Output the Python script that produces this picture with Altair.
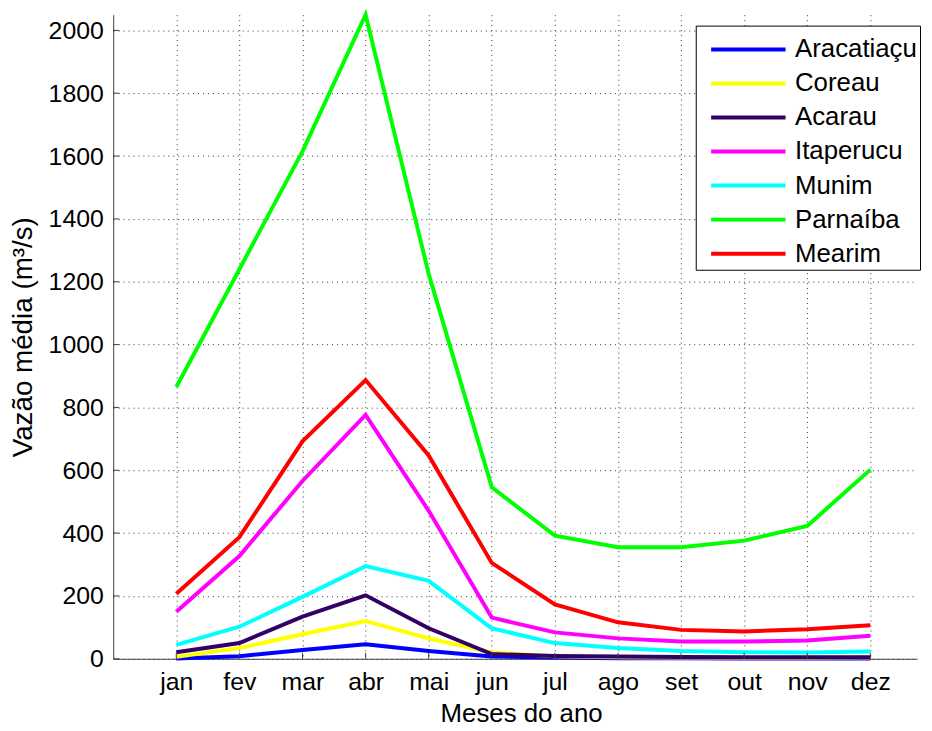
import altair as alt
import pandas as pd

meses = ["jan", "fev", "mar", "abr", "mai", "jun", "jul", "ago", "set", "out", "nov", "dez"]
series = ["Aracatiaçu", "Coreau", "Acarau", "Itaperucu", "Munim", "Parnaíba", "Mearim"]
cores = ["#0000FF", "#FFFF00", "#330066", "#FF00FF", "#00FFFF", "#00FF00", "#FF0000"]

aracatiacu = [1, 8, 28, 46, 25, 7, 4, 2, 2, 1, 1, 1]
coreau = [6, 34, 78, 120, 65, 20, 8, 5, 4, 3, 3, 4]
acarau = [21, 50, 134, 202, 97, 15, 9, 7, 6, 5, 5, 5]
itaperucu = [150, 327, 566, 776, 471, 131, 84, 65, 55, 55, 58, 73]
munim = [44, 102, 197, 295, 248, 97, 50, 34, 25, 21, 20, 23]
parnaiba = [865, 1240, 1615, 2050, 1225, 546, 392, 355, 355, 376, 423, 602]
mearim = [207, 387, 692, 887, 647, 305, 173, 116, 92, 87, 94, 107]

y_ticks = [0, 200, 400, 600, 800, 1000, 1200, 1400, 1600, 1800, 2000]

valores = [aracatiacu, coreau, acarau, itaperucu, munim, parnaiba, mearim]
rows = []
for s, vals in zip(series, valores):
    for i, v in enumerate(vals):
        rows.append({"serie": s, "mes": i + 1, "vazao": v})
df = pd.DataFrame(rows)

FONT = "Liberation Sans"
label_expr = "[" + ",".join("'%s'" % m for m in meses) + "][datum.value - 1]"

x_scale = alt.Scale(domain=[0, 12.74], nice=False, zero=False)
y_scale = alt.Scale(domain=[0, 2050], nice=False)
color_scale = alt.Scale(domain=series, range=cores)

x_axis = alt.Axis(values=list(range(1, 13)), labelExpr=label_expr, title="Meses do ano",
                  grid=True, titleX=411, titleY=63, titleBaseline="alphabetic")
y_axis = alt.Axis(values=y_ticks, format="d", title="Vazão média (m³/s)", grid=True,
                  titleX=-82, titleY=324.5, titleBaseline="alphabetic")

legend = alt.Legend(orient="none", legendX=587, legendY=11, symbolType="M-2,0H2",
                    symbolSize=1406, symbolStrokeWidth=4, labelFontSize=26, labelFont=FONT,
                    labelColor="black", labelOffset=26, padding=3, symbolOffset=29,
                    rowPadding=0.3, strokeColor="black", fillColor="white", labelLimit=400,
                    labelExpr="datum.label + '\u00a0\u00a0\u00a0'")

layers = []
for s in series:
    layers.append(
        alt.Chart(df).transform_filter(alt.datum.serie == s)
        .mark_line(strokeWidth=4)
        .encode(
            x=alt.X("mes:Q", scale=x_scale, axis=x_axis),
            y=alt.Y("vazao:Q", scale=y_scale, axis=y_axis),
            color=alt.Color("serie:N", scale=color_scale, legend=legend, title=None),
        )
    )

xt = alt.Chart(pd.DataFrame({"mes": list(range(1, 13))})).mark_rule(color="#404040").encode(
    x=alt.X("mes:Q", scale=x_scale, axis=x_axis), y=alt.value(649), y2=alt.value(643))
yt = alt.Chart(pd.DataFrame({"vazao": y_ticks})).mark_rule(color="#404040").encode(
    y=alt.Y("vazao:Q", scale=y_scale, axis=y_axis), x=alt.value(0), x2=alt.value(6))

chart = (
    alt.layer(*layers, xt, yt)
    .properties(width=810, height=649,
                autosize=alt.AutoSizeParams(type="none"),
                padding={"left": 106, "top": 4, "right": 7, "bottom": 68})
    .configure_view(strokeWidth=0)
    .configure_axis(labelFont=FONT, labelFontSize=25, labelColor="black",
                    titleFont=FONT, titleFontSize=26, titleFontWeight="normal", titleColor="black",
                    domainColor="#404040", domainWidth=1, ticks=False, tickSize=0,
                    gridColor="#333333", gridDash=[1, 4], gridOpacity=1, gridWidth=1)
    .configure_axisX(labelPadding=11)
    .configure_axisY(labelPadding=10, titleFontSize=28)
)

chart.save("out.html", embed_options={"renderer": "svg", "actions": False})
